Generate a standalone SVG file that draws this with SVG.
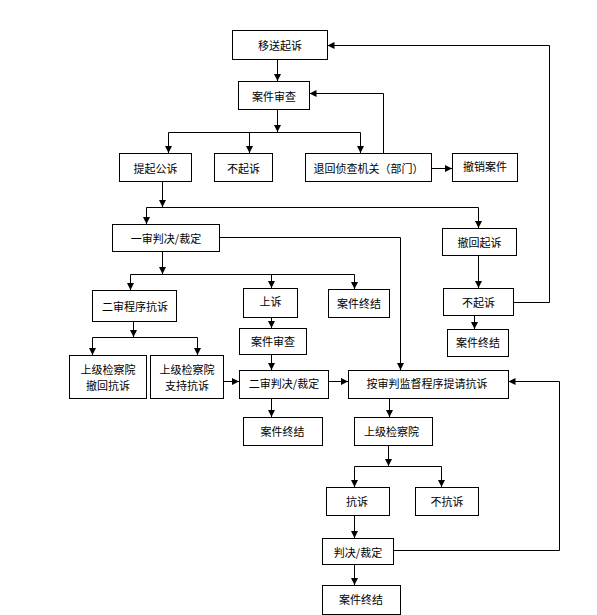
<svg xmlns="http://www.w3.org/2000/svg" width="597" height="615" viewBox="0 0 597 615">
<style>
.b{fill:#fff;stroke:#000;stroke-width:1}
.t{font-family:"Noto Sans CJK SC","Liberation Sans",sans-serif;font-size:11px;fill:#000;text-anchor:middle;dominant-baseline:central}
.c{fill:none;stroke:#000;stroke-width:1}
.a{marker-end:url(#ah)}
</style>
<defs>
<marker id="ah" markerUnits="userSpaceOnUse" markerWidth="8" markerHeight="8" refX="7" refY="3.5" orient="auto">
<path d="M0,0 L7,3.5 L0,7 z" fill="#000"/>
</marker>
</defs>
<rect width="597" height="615" fill="#fff"/>
<g id="connectors">
<path class="c a" d="M277.5,59.5 V81"/>
<path class="c a" d="M277.5,109.5 V132"/>
<path class="c" d="M168.5,132.5 H360.5"/>
<path class="c a" d="M168.5,132.5 V153"/>
<path class="c a" d="M249.5,132.5 V153"/>
<path class="c a" d="M360.5,132.5 V153"/>
<path class="c a" d="M383.5,153.5 V93.5 H309.5"/>
<path class="c a" d="M431.5,168.5 H452"/>
<path class="c a" d="M162.5,181.5 V207"/>
<path class="c" d="M146.5,207.5 H478.5"/>
<path class="c a" d="M146.5,207.5 V224"/>
<path class="c a" d="M478.5,207.5 V228"/>
<path class="c a" d="M219.5,237.5 H400.5 V370"/>
<path class="c a" d="M478.5,255.5 V288"/>
<path class="c a" d="M513.5,302.5 H549.5 V45.5 H327.5"/>
<path class="c a" d="M474.5,315.5 V329"/>
<path class="c a" d="M162.5,251.5 V274"/>
<path class="c" d="M130.5,274.5 H354.5"/>
<path class="c a" d="M130.5,274.5 V290"/>
<path class="c a" d="M271.5,274.5 V288"/>
<path class="c a" d="M354.5,274.5 V289"/>
<path class="c a" d="M271.5,317.5 V328"/>
<path class="c a" d="M133.5,321.5 V337"/>
<path class="c" d="M92.5,337.5 H197.5"/>
<path class="c a" d="M92.5,337.5 V355"/>
<path class="c a" d="M197.5,337.5 V355"/>
<path class="c a" d="M223.5,381.5 H239"/>
<path class="c a" d="M271.5,354.5 V370"/>
<path class="c a" d="M328.5,381.5 H348"/>
<path class="c a" d="M271.5,398.5 V417"/>
<path class="c a" d="M389.5,398.5 V417"/>
<path class="c a" d="M388.5,445.5 V466"/>
<path class="c" d="M354.5,466.5 H441.5"/>
<path class="c a" d="M354.5,466.5 V487"/>
<path class="c a" d="M441.5,466.5 V487"/>
<path class="c a" d="M354.5,515.5 V538"/>
<path class="c a" d="M393.5,550.5 H559.5 V381.5 H508.5"/>
<path class="c a" d="M354.5,564.5 V585"/>
</g>
<g id="n1"><rect class="b" x="232.5" y="30.5" width="95" height="29"/><text class="t" x="280" y="45">移送起诉</text></g>
<g id="n2"><rect class="b" x="238.5" y="81.5" width="71" height="28"/><text class="t" x="274" y="95.5">案件审查</text></g>
<g id="n3"><rect class="b" x="119.5" y="153.5" width="72" height="28"/><text class="t" x="155.5" y="167.5">提起公诉</text></g>
<g id="n4"><rect class="b" x="214.5" y="153.5" width="58" height="28"/><text class="t" x="243.5" y="167.5">不起诉</text></g>
<g id="n5"><rect class="b" x="305.5" y="153.5" width="126" height="28"/><text class="t" x="368.5" y="167.5">退回侦查机关（部门）</text></g>
<g id="n6"><rect class="b" x="452.5" y="153.5" width="65" height="28"/><text class="t" x="485" y="165.5">撤销案件</text></g>
<g id="n7"><rect class="b" x="112.5" y="224.5" width="107" height="27"/><text class="t" x="166" y="238">一审判决/裁定</text></g>
<g id="n8"><rect class="b" x="442.5" y="228.5" width="74" height="27"/><text class="t" x="479.5" y="242">撤回起诉</text></g>
<g id="n9"><rect class="b" x="443.5" y="288.5" width="70" height="27"/><text class="t" x="478.5" y="302">不起诉</text></g>
<g id="n10"><rect class="b" x="447.5" y="329.5" width="61" height="27"/><text class="t" x="478" y="342">案件终结</text></g>
<g id="n11"><rect class="b" x="92.5" y="290.5" width="84" height="31"/><text class="t" x="135" y="305.5">二审程序抗诉</text></g>
<g id="n12"><rect class="b" x="243.5" y="288.5" width="54" height="29"/><text class="t" x="270.5" y="301">上诉</text></g>
<g id="n13"><rect class="b" x="328.5" y="289.5" width="61" height="28"/><text class="t" x="359" y="302.5">案件终结</text></g>
<g id="n14"><rect class="b" x="239.5" y="328.5" width="67" height="26"/><text class="t" x="273" y="341">案件审查</text></g>
<g id="n15"><rect class="b" x="69.5" y="355.5" width="77" height="43"/><text class="t" x="108" y="368.5">上级检察院</text><text class="t" x="108" y="384.5">撤回抗诉</text></g>
<g id="n16"><rect class="b" x="150.5" y="355.5" width="73" height="43"/><text class="t" x="187" y="368.5">上级检察院</text><text class="t" x="187" y="384.5">支持抗诉</text></g>
<g id="n17"><rect class="b" x="239.5" y="370.5" width="89" height="28"/><text class="t" x="284" y="382.5">二审判决/裁定</text></g>
<g id="n18"><rect class="b" x="348.5" y="370.5" width="160" height="28"/><text class="t" x="427" y="382.5">按审判监督程序提请抗诉</text></g>
<g id="n19"><rect class="b" x="243.5" y="417.5" width="79" height="28"/><text class="t" x="282.5" y="430.5">案件终结</text></g>
<g id="n20"><rect class="b" x="354.5" y="417.5" width="78" height="28"/><text class="t" x="391.5" y="430.5">上级检察院</text></g>
<g id="n21"><rect class="b" x="326.5" y="487.5" width="63" height="28"/><text class="t" x="357" y="500.5">抗诉</text></g>
<g id="n22"><rect class="b" x="415.5" y="487.5" width="63" height="28"/><text class="t" x="447" y="500.5">不抗诉</text></g>
<g id="n23"><rect class="b" x="322.5" y="538.5" width="71" height="26"/><text class="t" x="358" y="551.5">判决/裁定</text></g>
<g id="n24"><rect class="b" x="322.5" y="585.5" width="78" height="29"/><text class="t" x="361" y="598.5">案件终结</text></g>
</svg>
